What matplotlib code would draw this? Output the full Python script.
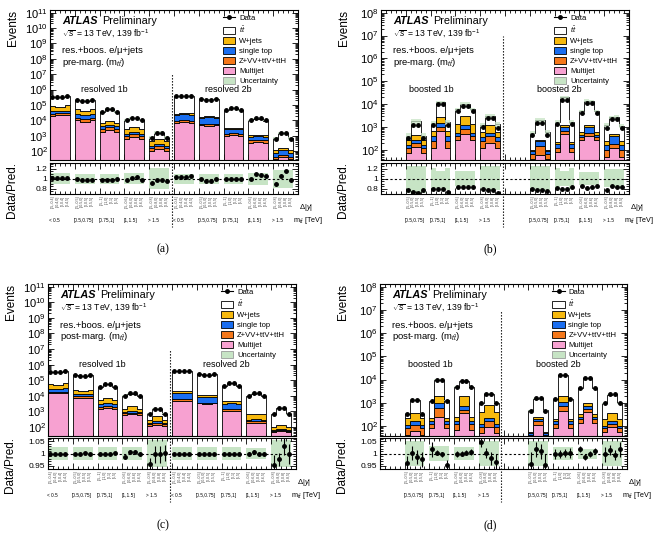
import numpy as np
import matplotlib
matplotlib.use("Agg")
import matplotlib.pyplot as plt
import matplotlib.transforms as mtransforms
from matplotlib.ticker import LogLocator, NullFormatter, FixedLocator, MultipleLocator, FuncFormatter
from matplotlib.patches import Patch
from matplotlib.lines import Line2D

plt.rcParams['font.family'] = ['Liberation Sans', 'DejaVu Sans']
plt.rcParams['mathtext.fontset'] = 'custom'
plt.rcParams['mathtext.rm'] = 'Liberation Sans'
plt.rcParams['mathtext.it'] = 'Liberation Sans:italic'
plt.rcParams['mathtext.bf'] = 'Liberation Sans:bold'

# ---------------- categories ----------------
MTT_LABELS = ['< 0.5', '[0.5,0.75]', '[0.75,1]', '[1,1.5]', '> 1.5']
DY_LABELS = [
    ['[-5,-0.4]', '[-0.4,0]', '[0,0.4]', '[0.4,5]'],
    ['[-5,-0.5]', '[-0.5,0]', '[0,0.5]', '[0.5,5]'],
    ['[-5,-1]', '[-1,0]', '[0,1]', '[1,5]'],
    ['[-5,-0.6]', '[-0.6,0]', '[0,0.6]', '[0.6,5]'],
    ['[-5,-0.8]', '[-0.8,0]', '[0,0.8]', '[0.8,5]'],
]
RES_SLOTS = [0, 1, 2, 3, 4, 5, 6, 7, 8, 9]
RES_MTT = [0, 1, 2, 3, 4, 0, 1, 2, 3, 4]
BOO_SLOTS = [1, 2, 3, 4, 6, 7, 8, 9]
BOO_MTT = [1, 2, 3, 4, 1, 2, 3, 4]

# ---------------- data (same in pre/post) ----------------
RES_DATA = [3.2e5, 3.2e5, 3.2e5, 4.0e5, 2.2e5, 1.8e5, 1.8e5, 2.1e5, 3.5e4, 5.5e4, 5.5e4, 3.5e4,
            1.0e4, 1.4e4, 1.4e4, 1.0e4, 7e2, 1.5e3, 1.5e3, 7e2,
            3.7e5, 3.7e5, 3.7e5, 4.0e5, 2.5e5, 2.2e5, 2.2e5, 2.5e5, 4.4e4, 6.4e4, 6.4e4, 4.4e4,
            1.0e4, 1.4e4, 1.4e4, 1.0e4, 6.5e2, 1.6e3, 1.6e3, 6.5e2]
BOO_DATA = [330, 1300, 1300, 330, 1200, 1.0e4, 1.0e4, 1200, 5000, 8800, 8800, 5000, 1000, 2400, 2400, 950,
            450, 1550, 1550, 450, 1400, 1.6e4, 1.6e4, 1400, 4300, 1.15e4, 1.15e4, 4300, 950, 2300, 2300, 950]

# ---------------- (a) resolved, pre-marg ----------------
A_RATIO = [1.01, 1.01, 1.01, 1.01, 1.0, 0.98, 0.97, 0.98, 0.98, 0.98, 0.98, 0.99,
           0.97, 1.02, 1.03, 0.97, 0.92, 0.97, 0.97, 0.96,
           1.04, 1.04, 1.04, 1.05, 1.0, 0.96, 0.96, 0.99, 0.99, 0.99, 0.99, 1.0,
           1.0, 1.09, 1.08, 1.05, 0.9, 1.06, 1.15, 0.97]
A_MJ = [2.0e4, 2.3e4, 2.3e4, 2.1e4, 1.0e4, 8e3, 8e3, 1.0e4, 1.8e3, 2.3e3, 2.3e3, 1.8e3,
        6e2, 8e2, 8e2, 6e2, 100, 130, 130, 100,
        7e3, 7.5e3, 7.5e3, 7e3, 5e3, 4.5e3, 4.5e3, 5e3, 9e2, 1.1e3, 1.1e3, 9e2,
        350, 400, 400, 350, 30, 40, 40, 30]
A_ZVV = [7e3, 6e3, 6e3, 7e3, 5e3, 4e3, 4e3, 5e3, 9e2, 1.2e3, 1.2e3, 9e2,
         4e2, 5e2, 5e2, 4e2, 50, 70, 70, 50,
         2e3, 2.2e3, 2.2e3, 2e3, 1e3, 1e3, 1e3, 1e3, 3e2, 3e2, 3e2, 3e2,
         150, 150, 150, 150, 10, 15, 15, 10]
A_STOP = [1.4e4, 1.3e4, 1.3e4, 1.5e4, 1.1e4, 9e3, 9e3, 1.1e4, 1.3e3, 1.5e3, 1.5e3, 1.3e3,
          3e2, 4e2, 4e2, 3e2, 50, 80, 80, 50,
          1.3e4, 1.5e4, 1.5e4, 1.4e4, 9e3, 1e4, 1e4, 9e3, 1.5e3, 1.5e3, 1.5e3, 1.5e3,
          350, 350, 350, 350, 30, 60, 60, 30]
A_WJETS = [3.8e4, 2.8e4, 2.8e4, 5.5e4, 2.6e4, 1.8e4, 1.8e4, 2.8e4, 3e3, 4e3, 4e3, 3e3,
           1.5e3, 1.7e3, 1.7e3, 1.5e3, 250, 350, 350, 250,
           4e3, 4e3, 4e3, 5e3, 2.6e3, 2.6e3, 2.6e3, 2.6e3, 4e2, 4e2, 4e2, 4e2,
           200, 200, 200, 200, 40, 40, 40, 40]
A_ERR = [0.002, 0.002, 0.002, 0.002, 0.002, 0.002, 0.002, 0.002, 0.005, 0.004, 0.004, 0.005,
         0.01, 0.008, 0.008, 0.01, 0.038, 0.026, 0.026, 0.038,
         0.002, 0.002, 0.002, 0.002, 0.002, 0.002, 0.002, 0.002, 0.005, 0.004, 0.004, 0.005,
         0.01, 0.008, 0.008, 0.01, 0.04, 0.025, 0.025, 0.04]
A_UNC = [0.11, 0.10, 0.10, 0.11, 0.21, 0.10, 0.10, 0.10, 0.12, 0.18]   # per group

# ---------------- (b) boosted, pre-marg ----------------
B_RATIO = [0.77, 0.73, 0.71, 0.77, 0.80, 0.80, 0.80, 0.73, 0.83, 0.83, 0.83, 0.84, 0.79, 0.78, 0.77, 0.71,
           0.80, 0.78, 0.77, 0.75, 0.81, 0.80, 0.80, 0.83, 0.85, 0.81, 0.83, 0.86, 0.78, 0.86, 0.83, 0.83]
B_MJ = [75, 135, 135, 75, 125, 700, 700, 125, 280, 500, 500, 280, 125, 200, 200, 125,
        40, 63, 63, 40, 80, 500, 500, 80, 280, 400, 400, 280, 50, 126, 126, 50]
B_ZVV = [50, 65, 65, 50, 120, 320, 320, 120, 120, 300, 300, 120, 125, 200, 200, 125,
         30, 95, 95, 30, 45, 210, 210, 45, 75, 160, 160, 75, 50, 55, 55, 50]
B_STOP = [50, 80, 80, 50, 150, 560, 560, 150, 160, 460, 460, 160, 105, 160, 160, 105,
          20, 90, 90, 20, 55, 290, 290, 55, 95, 440, 440, 95, 60, 220, 220, 60]
B_WJETS = [100, 190, 190, 100, 300, 1300, 1300, 300, 800, 1900, 1900, 800, 275, 700, 700, 275,
           10, 30, 30, 10, 40, 260, 260, 40, 180, 260, 260, 180, 90, 100, 100, 90]
B_ERR = [0.02, 0.01, 0.01, 0.02, 0.01, 0.005, 0.005, 0.01, 0.005, 0.005, 0.005, 0.005, 0.01, 0.008, 0.008, 0.01,
         0.02, 0.01, 0.01, 0.02, 0.01, 0.005, 0.005, 0.01, 0.005, 0.005, 0.005, 0.005, 0.01, 0.008, 0.008, 0.01]
B_UNC_UP = [0.26, 0.26, 0.26, 0.26, 0.22, 0.15, 0.15, 0.22, 0.16, 0.16, 0.16, 0.16, 0.25, 0.25, 0.25, 0.25,
            0.25, 0.25, 0.25, 0.25, 0.21, 0.15, 0.15, 0.21, 0.14, 0.14, 0.14, 0.14, 0.20, 0.20, 0.20, 0.20]
B_UNC_DN = [0.28, 0.28, 0.28, 0.28, 0.22, 0.18, 0.18, 0.22, 0.15, 0.15, 0.15, 0.15, 0.22, 0.22, 0.22, 0.22,
            0.24, 0.24, 0.24, 0.24, 0.20, 0.15, 0.15, 0.20, 0.12, 0.12, 0.12, 0.12, 0.16, 0.16, 0.16, 0.16]

# ---------------- (c) resolved, post-marg ----------------
C_RATIO = [1.0, 1.0, 1.0, 1.0, 1.0, 0.999, 1.002, 1.0, 1.0, 1.0, 1.0, 1.003,
           0.988, 1.007, 1.008, 1.0, 0.957, 0.997, 0.997, 1.003,
           1.0, 1.0, 1.0, 1.0, 1.0, 1.0, 1.0, 1.0, 1.0, 1.0, 1.0, 1.0,
           1.0, 1.007, 0.997, 0.997, 0.953, 0.977, 1.03, 1.0]
C_MJ = [1.4e4, 1.5e4, 1.5e4, 1.5e4, 7.6e3, 7e3, 7e3, 7.6e3, 1.4e3, 1.6e3, 1.6e3, 1.4e3,
        6e2, 6.6e2, 6.6e2, 6e2, 110, 135, 135, 110,
        4.7e3, 4.7e3, 4.7e3, 4.7e3, 3.2e3, 3.0e3, 3.0e3, 3.2e3, 1.0e3, 1.07e3, 1.07e3, 1.0e3,
        170, 190, 190, 170, 45, 56, 56, 45]
C_ZVV = [3e3, 3e3, 3e3, 3e3, 2.2e3, 2e3, 2e3, 2.2e3, 5e2, 6e2, 6e2, 5e2,
         150, 170, 170, 150, 40, 55, 55, 40,
         1.3e3, 1.3e3, 1.3e3, 1.3e3, 4e2, 4e2, 4e2, 4e2, 350, 380, 380, 350,
         60, 60, 60, 60, 8, 10, 10, 8]
C_STOP = [1.1e4, 1.0e4, 1.0e4, 1.2e4, 4e3, 3.5e3, 3.5e3, 4e3, 1.2e3, 1.4e3, 1.4e3, 1.2e3,
          150, 170, 170, 150, 30, 35, 35, 30,
          1.0e4, 1.0e4, 1.0e4, 1.0e4, 5.3e3, 5.0e3, 5.0e3, 5.3e3, 1.8e3, 2.0e3, 2.0e3, 1.8e3,
          66, 66, 66, 66, 10, 12, 12, 10]
C_WJETS = [2.6e4, 2.2e4, 2.2e4, 3.2e4, 1.0e4, 8e3, 8e3, 1.0e4, 2e3, 4e3, 4e3, 2e3,
           580, 1240, 1240, 580, 100, 280, 280, 100,
           4e3, 4e3, 4e3, 4e3, 2e3, 2e3, 2e3, 2e3, 1.2e3, 1.2e3, 1.2e3, 1.2e3,
           375, 375, 375, 375, 30, 45, 45, 30]
C_ERR = [0.002, 0.002, 0.002, 0.002, 0.002, 0.002, 0.002, 0.002, 0.005, 0.004, 0.004, 0.005,
         0.008, 0.006, 0.006, 0.008, 0.025, 0.033, 0.033, 0.033,
         0.002, 0.002, 0.002, 0.002, 0.002, 0.002, 0.002, 0.002, 0.005, 0.004, 0.004, 0.005,
         0.008, 0.006, 0.006, 0.008, 0.04, 0.025, 0.035, 0.04]
C_UNC = [0.027, 0.025, 0.025, 0.025, 0.055, 0.025, 0.025, 0.025, 0.023, 0.055]   # per group

# ---------------- (d) boosted, post-marg ----------------
D_RATIO = [0.962, 1.003, 0.987, 0.977, 1.018, 1.004, 0.997, 0.953, 1.0, 1.0, 1.004, 1.006,
           1.045, 1.003, 0.981, 0.968,
           0.960, 1.017, 1.010, 0.955, 0.998, 0.998, 1.002, 1.003, 1.018, 0.985, 0.997, 1.010,
           0.998, 1.015, 0.995, 1.018]
D_MJ = [40, 63, 63, 40, 80, 250, 250, 80, 70, 355, 355, 70, 50, 90, 90, 50,
        28, 110, 110, 28, 80, 450, 450, 80, 140, 400, 400, 140, 56, 90, 90, 56]
D_ZVV = [40, 50, 50, 40, 46, 350, 350, 46, 56, 145, 145, 56, 40, 70, 70, 40,
         12, 50, 50, 12, 46, 250, 250, 46, 60, 160, 160, 60, 24, 36, 36, 24]
D_STOP = [32, 46, 46, 32, 32, 400, 400, 32, 32, 210, 210, 32, 36, 64, 64, 36,
          10, 40, 40, 10, 32, 420, 420, 32, 50, 150, 150, 50, 20, 32, 32, 20]
D_WJETS = [110, 200, 200, 110, 60, 1000, 1000, 60, 92, 1290, 1290, 92, 274, 575, 575, 274,
           6, 50, 50, 6, 42, 880, 880, 42, 66, 290, 290, 66, 100, 200, 200, 100]
D_ERR = [0.03, 0.028, 0.028, 0.03, 0.03, 0.01, 0.01, 0.02, 0.012, 0.01, 0.01, 0.012, 0.02, 0.02, 0.025, 0.03,
         0.045, 0.03, 0.03, 0.045, 0.02, 0.015, 0.015, 0.02, 0.012, 0.012, 0.012, 0.012, 0.03, 0.02, 0.02, 0.03]
D_UNC = [0.05, 0.03, 0.025, 0.05, 0.05, 0.025, 0.02, 0.05]   # per group

# ---------------- styles ----------------
COL_TT = 'white'
COL_W = '#f7b90e'
COL_ST = '#1a6ef0'
COL_Z = '#f5781a'
COL_MJ = '#f7a1d1'
COL_UNC = '#c7e4c5'

W, H = 663, 539
fig = plt.figure(figsize=(W / 100, H / 100), dpi=100)


def rect(l, t, r, b):
    return [l / W, 1 - b / H, (r - l) / W, (b - t) / H]


def decade_fmt(v, pos):
    e = int(round(np.log10(v)))
    return r'$10^{%d}$' % e


def panel(main_box, ratio_box, slots, mtt_idx, data, ratio, mj, zvv, st, wj, up, dn, err,
          ylim, rylim, rticks, rminor, marg, regions, region_x, letter, letter_xy):
    axm = fig.add_axes(rect(*main_box))
    axr = fig.add_axes(rect(*ratio_box))
    data = np.array(data, float)
    ratio = np.array(ratio, float)
    comps = [np.array(c, float) for c in (mj, zvv, st, wj)]
    up = np.array(up, float)
    dn = np.array(dn, float)
    err = np.array(err, float)
    total = data / ratio
    tt = total - sum(comps)
    comps.append(tt)
    cols = [COL_MJ, COL_Z, COL_ST, COL_W, COL_TT]

    for gi, slot in enumerate(slots):
        s = slice(4 * gi, 4 * gi + 4)
        edges = np.arange(5) + 5 * slot
        lower = np.full(4, 1e-3)
        for comp, col in zip(comps, cols):
            upper = lower + comp[s]
            axm.stairs(upper, edges, baseline=lower, fill=True, facecolor=col,
                       edgecolor='black', linewidth=0.6, zorder=2)
            lower = upper
        tot = total[s]
        axm.stairs(tot * (1 + up[s]), edges, baseline=tot * (1 - dn[s]), fill=True,
                   facecolor=COL_UNC, edgecolor='none', alpha=0.75, zorder=3)
        axr.stairs(1 + up[s], edges, baseline=1 - dn[s], fill=True,
                   facecolor=COL_UNC, edgecolor='none', zorder=1)
        cen = edges[:-1] + 0.5
        axm.errorbar(cen, data[s], yerr=np.sqrt(data[s]), fmt='o', ms=2.5, color='black',
                     lw=0.8, capsize=0, zorder=5)
        axr.errorbar(cen, ratio[s], yerr=err[s], fmt='o', ms=2.5, color='black',
                     lw=0.8, capsize=0, zorder=5)

    # main axes styling
    axm.set_yscale('log')
    axm.set_xlim(0, 50)
    axm.set_ylim(*ylim)
    axm.yaxis.set_major_locator(LogLocator(base=10, numticks=30))
    axm.yaxis.set_minor_locator(LogLocator(base=10, subs=np.arange(2, 10), numticks=30))
    axm.yaxis.set_major_formatter(FuncFormatter(decade_fmt))
    axm.yaxis.set_minor_formatter(NullFormatter())
    for ax in (axm, axr):
        ax.xaxis.set_major_locator(MultipleLocator(5))
        ax.xaxis.set_minor_locator(MultipleLocator(1))
        ax.tick_params(axis='both', which='both', direction='in', top=True, right=True,
                       labelsize=8, width=0.6)
        ax.tick_params(axis='both', which='major', length=4)
        ax.tick_params(axis='both', which='minor', length=2)
        ax.tick_params(axis='x', labelbottom=False)
        for sp in ax.spines.values():
            sp.set_linewidth(0.8)
    axm.tick_params(axis='y', pad=1.5)
    axr.tick_params(axis='y', labelsize=6, pad=2)

    axm.plot([24.5, 24.5], [ylim[0], 1e7], color='black', lw=0.8, ls=(0, (1.2, 1.5)), zorder=4)

    # texts
    axm.text(0.048, 0.927, 'ATLAS', transform=axm.transAxes, fontsize=7.8,
             fontweight='bold', fontstyle='italic', va='center', ha='left')
    axm.text(0.212, 0.927, 'Preliminary', transform=axm.transAxes, fontsize=7.8,
             va='center', ha='left')
    axm.text(0.048, 0.84, r'$\sqrt{s}$ = 13 TeV, 139 fb$^{-1}$', transform=axm.transAxes,
             fontsize=6.2, va='center', ha='left')
    axm.text(0.048, 0.727, 'res.+boos. e/\u03bc+jets', transform=axm.transAxes,
             fontsize=6.8, va='center', ha='left')
    axm.text(0.048, 0.653, marg + r' (m$_{t\bar{t}}$)', transform=axm.transAxes,
             fontsize=6.8, va='center', ha='left')
    for lab, xr in zip(regions, region_x):
        axm.text(xr, 0.473, lab, transform=mtransforms.blended_transform_factory(axm.transData, axm.transAxes),
                 fontsize=6.5, ha='center', va='center')

    handles = [Line2D([0], [0], color='black', marker='o', ms=2.5, lw=0.8),
               Patch(facecolor=COL_TT, edgecolor='black', lw=0.6),
               Patch(facecolor=COL_W, edgecolor='black', lw=0.6),
               Patch(facecolor=COL_ST, edgecolor='black', lw=0.6),
               Patch(facecolor=COL_Z, edgecolor='black', lw=0.6),
               Patch(facecolor=COL_MJ, edgecolor='black', lw=0.6),
               Patch(facecolor=COL_UNC, edgecolor='#999999', lw=0.6)]
    labels = ['Data', r'$t\bar{t}$', 'W+jets', 'single top', 'Z+VV+ttV+ttH', 'Multijet', 'Uncertainty']
    axm.legend(handles, labels, loc='upper left', bbox_to_anchor=(0.698, 0.972), fontsize=5.5,
               frameon=False, handlelength=1.6, handleheight=1.0, labelspacing=0.27,
               borderpad=0, borderaxespad=0, handletextpad=0.5)

    # ratio axes
    axr.set_xlim(0, 50)
    axr.set_ylim(*rylim)
    axr.yaxis.set_major_locator(FixedLocator(rticks))
    axr.yaxis.set_minor_locator(MultipleLocator(rminor))
    axr.yaxis.set_major_formatter(FuncFormatter(lambda v, p: ('%g' % round(v, 3))))
    axr.axhline(1.0, color='black', lw=0.8, ls=(0, (2, 2)), zorder=3)
    axr.plot([24.5, 24.5], [1.0, -1.05], transform=mtransforms.blended_transform_factory(axr.transData, axr.transAxes),
             color='black', lw=0.8, ls=(0, (1.2, 1.5)), clip_on=False, zorder=4)

    trans = mtransforms.blended_transform_factory(axr.transData, axr.transAxes)
    for gi, slot in enumerate(slots):
        m = mtt_idx[gi]
        for k in range(4):
            axr.text(5 * slot + k + 0.5, -0.06, DY_LABELS[m][k], rotation=90, ha='center', va='top',
                     fontsize=2.6, color='#444444', transform=trans)
        axr.text(5 * slot - 0.2, -0.87, MTT_LABELS[m], ha='left', va='center', fontsize=3.4,
                 transform=trans)
    axr.text(50.3, -0.45, r'$\Delta|y|$', ha='left', va='center', fontsize=5.5, transform=trans)
    axr.text(49.0, -0.87, r'm$_{t\bar{t}}$ [TeV]', ha='left', va='center', fontsize=5.2, transform=trans)

    # y labels
    l, t, r, b = main_box
    fig.text((l - 37) / W, 1 - t / H, 'Events', rotation=90, ha='center', va='top', fontsize=8.5)
    rl, rt, rr, rb = ratio_box
    fig.text((rl - 38) / W, 1 - (rt + 27) / H, 'Data/Pred.', rotation=90, ha='center', va='center', fontsize=8.5)
    fig.text(letter_xy[0] / W, 1 - letter_xy[1] / H, letter, ha='center', va='center', fontsize=8.5,
             family=['Liberation Serif', 'DejaVu Serif'])


panel((50, 10, 298, 160), (50, 163, 298, 194), RES_SLOTS, RES_MTT, RES_DATA, A_RATIO,
      A_MJ, A_ZVV, A_STOP, A_WJETS, np.repeat(A_UNC, 4), np.repeat(A_UNC, 4), A_ERR,
      (26, 1.5e11), (0.69, 1.31), [0.8, 1.0, 1.2], 0.05, 'pre-marg.',
      ['resolved 1b', 'resolved 2b'], [11, 36], '(a)', (163, 249))

panel((381, 10, 629, 160), (381, 163, 629, 194), BOO_SLOTS, BOO_MTT, BOO_DATA, B_RATIO,
      B_MJ, B_ZVV, B_STOP, B_WJETS, B_UNC_UP, B_UNC_DN, B_ERR,
      (37, 1.3e8), (0.69, 1.31), [0.8, 1.0, 1.2], 0.05, 'pre-marg.',
      ['boosted 1b', 'boosted 2b'], [10.2, 36], '(b)', (490, 249))

panel((48, 284, 296, 436), (48, 438, 296, 469), RES_SLOTS, RES_MTT, RES_DATA, C_RATIO,
      C_MJ, C_ZVV, C_STOP, C_WJETS, np.repeat(C_UNC, 4), np.repeat(C_UNC, 4), C_ERR,
      (26, 1.5e11), (0.938, 1.062), [0.95, 1.0, 1.05], 0.01, 'post-marg.',
      ['resolved 1b', 'resolved 2b'], [11, 36], '(c)', (163, 525))

panel((380, 284, 627, 436), (380, 438, 627, 469), BOO_SLOTS, BOO_MTT, BOO_DATA, D_RATIO,
      D_MJ, D_ZVV, D_STOP, D_WJETS, np.repeat(D_UNC, 4), np.repeat(D_UNC, 4), D_ERR,
      (37, 1.3e8), (0.938, 1.062), [0.95, 1.0, 1.05], 0.01, 'post-marg.',
      ['boosted 1b', 'boosted 2b'], [10.2, 36], '(d)', (490, 525))

fig.savefig('out.png', dpi=100)
